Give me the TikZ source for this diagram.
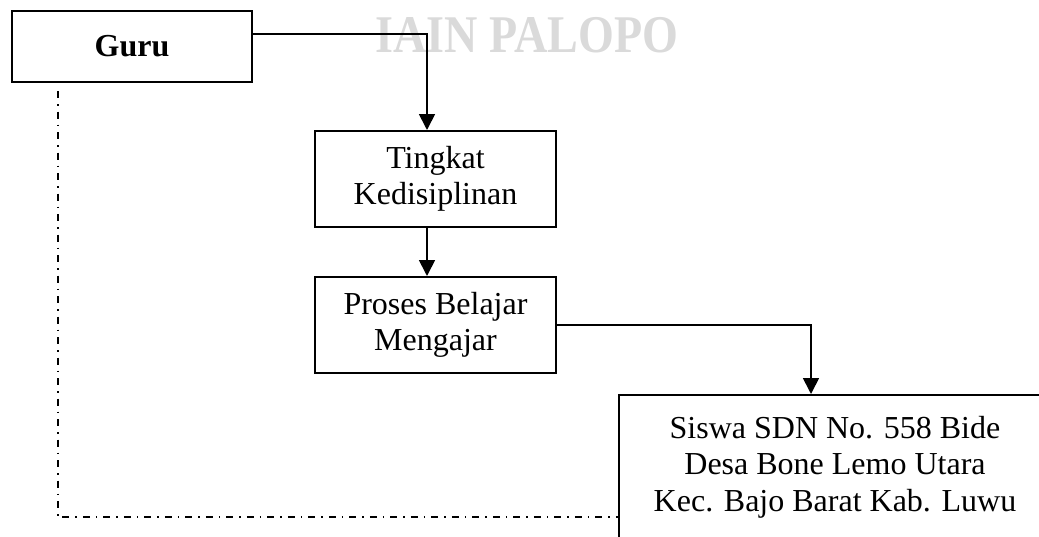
\documentclass[tikz,border=0pt]{standalone}
\usepackage{fontspec}
\setmainfont{Liberation Serif}
\usepackage{graphicx}
\usepackage{tikz}
\usetikzlibrary{arrows.meta,positioning}
\definecolor{watermark}{HTML}{DADADA}

\begin{document}
\begin{tikzpicture}[
  x=1pt, y=-1pt,
  every node/.style={font=\fontsize{32}{36.5}\selectfont},
  box/.style={rectangle, draw=black, line width=2pt, align=center, inner sep=0pt},
  arrow/.style={-{Triangle[length=16pt,width=16pt]}, line width=1.7pt},
  dashdot/.style={line width=1.6pt, dash pattern=on 7pt off 6pt on 1.5pt off 6pt},
]
\useasboundingbox (0,0) rectangle (1039,536);
\clip (0,0) rectangle (1039,536);

% Watermark
\node[anchor=base, text=watermark, font=\fontsize{53}{60}\selectfont\bfseries] (mark) at (527,52) {\scalebox{0.87}[1]{IAIN PALOPO}};

% Boxes
\node[box, minimum width=240pt, minimum height=71pt, font=\fontsize{32}{36.5}\selectfont\bfseries] (guru) at (132,46.5) {Guru};
\node[box, minimum width=241pt, minimum height=96pt] (tingkat) at (435.5,179) {Tingkat\\Kedisiplinan};
\node[box, minimum width=241pt, minimum height=96pt, below=48pt of tingkat] (proses) {Proses Belajar\\Mengajar};
\node[box, minimum width=432pt, inner ysep=21pt, anchor=north] (siswa) at (835,394) {Siswa SDN No. 558 Bide\\Desa Bone Lemo Utara\\Kec. Bajo Barat Kab. Luwu};

% Arrows
\draw[arrow] ([yshift=12.5pt]guru.east) -| ([xshift=-8.5pt]tingkat.north);
\draw[arrow] ([xshift=-8.5pt]tingkat.south) -- ([xshift=-8.5pt]proses.north);
\draw[arrow] (proses.east) -| ([xshift=-24pt]siswa.north);
\draw[dashdot, shorten <=8pt] ([xshift=47pt]guru.south west) |- ([yshift=23pt]siswa.south west);
\end{tikzpicture}
\end{document}
